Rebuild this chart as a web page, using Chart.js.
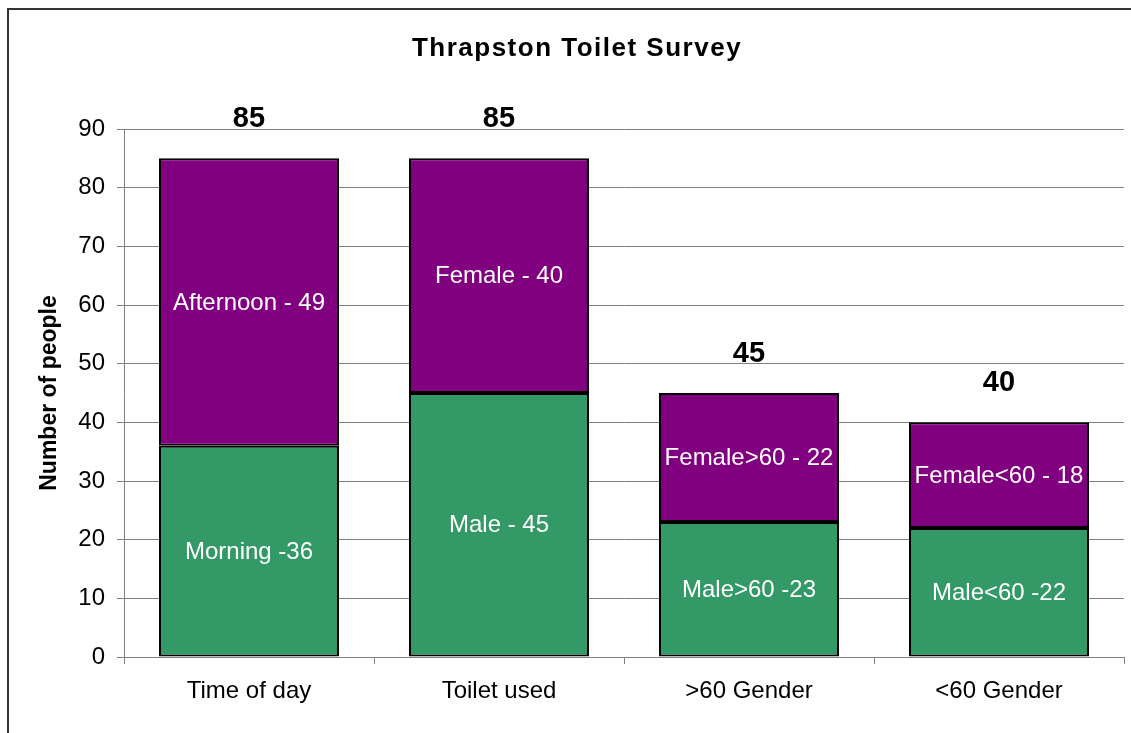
<!DOCTYPE html>
<html>
<head>
<meta charset="utf-8">
<script src="https://cdn.jsdelivr.net/npm/chart.js@4/dist/chart.umd.min.js"></script>
<style>
  html, body { margin: 0; padding: 0; overflow: hidden; background: #fff; }
  #wrap { position: relative; width: 1131px; height: 733px; }
  #frame { position: absolute; left: 7px; top: 8px; width: 1200px; height: 800px; border: 2px solid #333; box-sizing: border-box; }
  #wrap canvas { position: absolute; left: 0; top: 0; }
</style>
</head>
<body>
<div id="wrap">
  <div id="frame"></div>
  <canvas id="chart"></canvas>
</div>
<script>
var categories = ['Time of day', 'Toilet used', '>60 Gender', '<60 Gender'];
var lowerValues = [36, 45, 23, 22];
var upperValues = [49, 40, 22, 18];
var lowerLabels = ['Morning -36', 'Male - 45', 'Male>60 -23', 'Male<60 -22'];
var upperLabels = ['Afternoon - 49', 'Female - 40', 'Female>60 - 22', 'Female<60 - 18'];
var yTicks = [0, 10, 20, 30, 40, 50, 60, 70, 80, 90];

var FONT = '"Liberation Sans", Arial, sans-serif';

// draws title, labels inside the bars and totals above them
var labelPlugin = {
    id: 'labelPlugin',
    afterDatasetsDraw: function(chart) {
        var ctx = chart.ctx;
        ctx.save();
        ctx.textAlign = 'center';
        ctx.textBaseline = 'middle';
        ctx.fillStyle = '#fff';
        ctx.font = '24px ' + FONT;
        var texts = [lowerLabels, upperLabels];
        chart.data.datasets.forEach(function(ds, di) {
            chart.getDatasetMeta(di).data.forEach(function(bar, i) {
                ctx.fillText(texts[di][i], bar.x, (bar.y + bar.base) / 2 + 1);
            });
        });

        // totals
        ctx.fillStyle = '#000';
        ctx.font = 'bold 29px ' + FONT;
        ctx.textBaseline = 'alphabetic';
        var topMeta = chart.getDatasetMeta(1);
        topMeta.data.forEach(function(bar, i) {
            var total = lowerValues[i] + upperValues[i];
            ctx.fillText(String(total), bar.x, bar.y - 31);
        });

        // title
        ctx.font = 'bold 26px ' + FONT;
        if ('letterSpacing' in ctx) ctx.letterSpacing = '1.5px';
        ctx.textBaseline = 'middle';
        ctx.fillText('Thrapston Toilet Survey', 577, 49);
        ctx.restore();
    }
};

var ctx = document.getElementById('chart');
window.myChart = new Chart(ctx, {
    type: 'bar',
    data: {
        labels: categories,
        datasets: [{
            label: 'lower',
            data: lowerValues,
            backgroundColor: '#339966',
            borderColor: '#000',
            borderWidth: 2,
            borderSkipped: false,
            barPercentage: 0.72,
            categoryPercentage: 1
        }, {
            label: 'upper',
            data: upperValues,
            backgroundColor: '#800080',
            borderColor: '#000',
            borderWidth: 2,
            borderSkipped: false,
            barPercentage: 0.72,
            categoryPercentage: 1
        }]
    },
    options: {
        responsive: true,
        maintainAspectRatio: false,
        animation: false,
        layout: { padding: { left: 0, right: 7, top: 129, bottom: 0 } },
        plugins: {
            legend: { display: false },
            title: { display: false },
            tooltip: { enabled: false }
        },
        scales: {
            x: {
                stacked: true,
                afterFit: function(scale) { scale.height = 76; },
                grid: {
                    offset: true,
                    drawOnChartArea: false,
                    drawTicks: true,
                    tickLength: 7,
                    color: '#808080'
                },
                border: { color: '#808080', width: 1 },
                ticks: {
                    color: '#000',
                    padding: 13,
                    font: { family: FONT, size: 24 }
                }
            },
            y: {
                stacked: true,
                min: 0,
                max: 90,
                afterFit: function(scale) { scale.width = 124; },
                afterBuildTicks: function(scale) {
                    scale.ticks = yTicks.map(function(v) { return { value: v }; });
                },
                grid: {
                    color: '#808080',
                    tickLength: 7,
                    lineWidth: 1
                },
                border: { color: '#808080', width: 1 },
                ticks: {
                    color: '#000',
                    padding: 12,
                    font: { family: FONT, size: 24 }
                },
                title: {
                    display: true,
                    text: 'Number of people',
                    color: '#000',
                    padding: { top: 36, bottom: 0 },
                    font: { family: FONT, size: 23, weight: 'bold' }
                }
            }
        }
    },
    plugins: [labelPlugin]
});
</script>
</body>
</html>
